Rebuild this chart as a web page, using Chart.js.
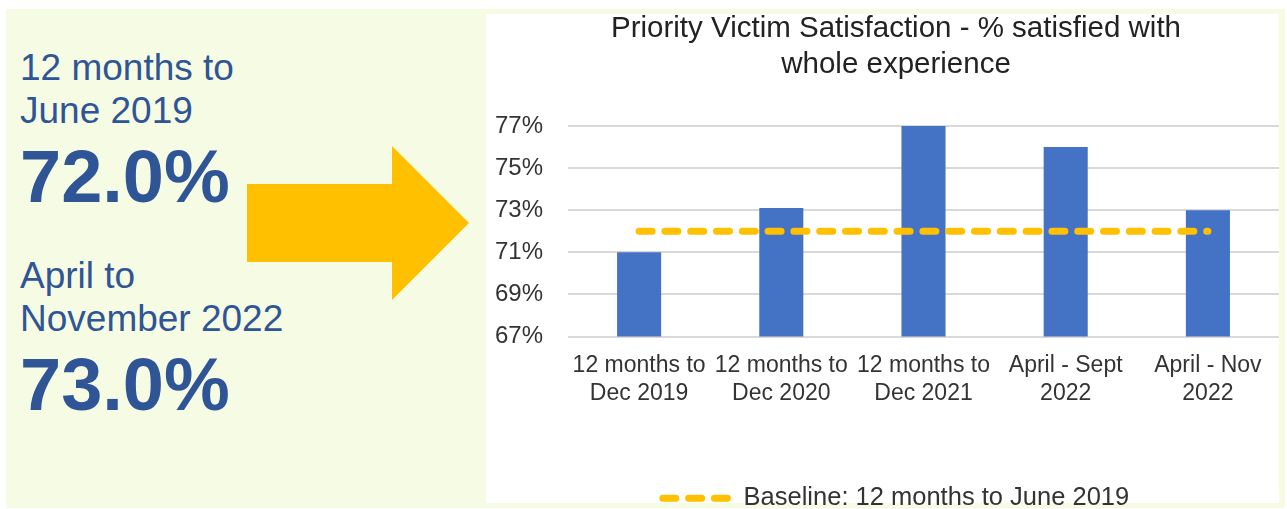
<!DOCTYPE html>
<html>
<head>
<meta charset="utf-8">
<script src="https://cdn.jsdelivr.net/npm/chart.js@4"></script>
<style>
  html, body { margin: 0; padding: 0; background: #fff; overflow: hidden; width: 1287px; height: 509px; }
  #panel { position: absolute; left: 6px; top: 9px; width: 1279px; height: 499px; background: #f6fce3; }
  .txt { position: absolute; left: 20px; color: #2f5597; font-family: "Liberation Sans", Arial, sans-serif; white-space: nowrap; }
  .lbl { font-size: 37px; line-height: 43px; }
  .big { font-size: 74px; line-height: 74px; font-weight: bold; }
  #arrow { position: absolute; left: 0; top: 0; }
  #white { position: absolute; left: 486px; top: 14px; width: 793px; height: 489px; background: #fff; }
  #wrap { position: absolute; left: 486px; top: 9px; width: 820px; height: 512px; }
</style>
</head>
<body>
<div id="panel"></div>
<div class="txt lbl" style="top:46px">12 months to<br>June 2019</div>
<div class="txt big" id="baseVal" style="top:140px"></div>
<div class="txt lbl" style="top:254px">April to<br>November 2022</div>
<div class="txt big" id="latestVal" style="top:348px"></div>
<svg id="arrow" width="480" height="509">
  <polygon points="247,184 392,184 392,146 469,223 392,300 392,262 247,262" fill="#ffc000"/>
</svg>
<div id="white"></div>
<div id="wrap"><canvas id="chart"></canvas></div>
<script>
const categories = [
  ["12 months to", "Dec 2019"],
  ["12 months to", "Dec 2020"],
  ["12 months to", "Dec 2021"],
  ["April - Sept", "2022"],
  ["April - Nov", "2022"],
];
const satisfied = [71.0, 73.1, 77.0, 76.0, 73.0];
const baseline = [72, 72, 72, 72, 72];
const yMin = 67;
const yMax = 77;
const yStep = 2;
const baselineValue = 72.0;
const latestValue = 73.0;

document.getElementById("baseVal").textContent = baselineValue.toFixed(1) + "%";
document.getElementById("latestVal").textContent = latestValue.toFixed(1) + "%";

const font = "'Liberation Sans', Arial, sans-serif";
Chart.defaults.font.family = font;
Chart.defaults.color = "#333";

const dash = [13, 12.8];

const config = {
  type: "bar",
  data: {
    labels: categories,
    datasets: [
      {
        type: "line",
        label: "Baseline: 12 months to June 2019",
        data: baseline,
        borderColor: "#ffc000",
        backgroundColor: "#ffc000",
        borderWidth: 7,
        borderDash: dash,
        borderCapStyle: "round",
        pointRadius: 0,
        order: 0,
      },
      {
        label: "Satisfied",
        data: satisfied,
        backgroundColor: "#4472c4",
        borderWidth: 0,
        categoryPercentage: 1,
        barPercentage: 0.31,
        order: 1,
      },
    ],
  },
  options: {
    responsive: true,
    maintainAspectRatio: false,
    animation: false,
    layout: { padding: { left: 27, right: 27, top: 0, bottom: 0 } },
    plugins: {
      tooltip: { enabled: false },
      title: {
        display: true,
        text: ["Priority Victim Satisfaction - % satisfied with", "whole experience"],
        color: "#222",
        font: { size: 29.5, weight: "normal", lineHeight: 1.22 },
        padding: { top: 2, bottom: 43 },
      },
      legend: {
        position: "bottom",
        labels: {
          usePointStyle: true,
          pointStyle: "line",
          pointStyleWidth: 68,
          padding: 4,
          color: "#333",
          font: { size: 25.5 },
          // only the baseline goes in the legend, drawn as a dashed line
          generateLabels: (chart) =>
            Chart.defaults.plugins.legend.labels
              .generateLabels(chart)
              .filter((item) => item.datasetIndex === 0)
              .map((item) => ({ ...item, lineDash: dash, lineCap: "round", lineWidth: 7 })),
        },
      },
    },
    scales: {
      x: {
        grid: { display: false },
        border: { display: false },
        ticks: {
          padding: 8,
          maxRotation: 0,
          autoSkip: false,
          color: "#333",
          font: { size: 23, lineHeight: 1.18 },
        },
        afterFit: (scale) => { scale.height = 145; },
      },
      y: {
        min: yMin,
        max: yMax,
        border: { display: false },
        grid: { color: "#d9d9d9", lineWidth: 2, drawTicks: false },
        ticks: {
          stepSize: yStep,
          mirror: true,
          crossAlign: "far",
          padding: -73,
          color: "#333",
          font: { size: 24 },
          callback: (v) => v + "%",
        },
        afterFit: (scale) => { scale.width = 55; },
      },
    },
  },
};

window.onload = function () {
  window.myChart = new Chart(document.getElementById("chart"), config);
};
</script>
</body>
</html>
